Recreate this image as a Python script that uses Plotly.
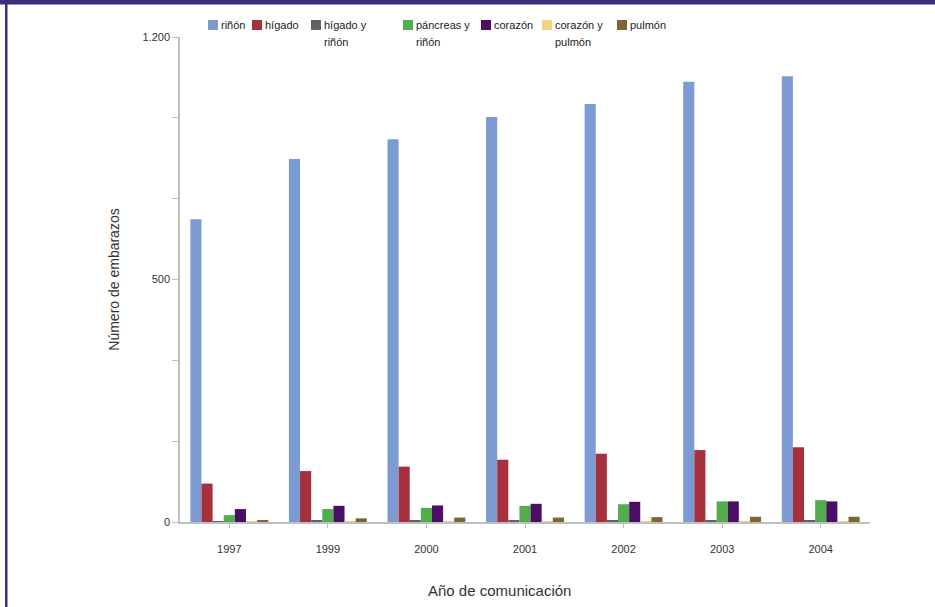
import plotly.graph_objects as go

years = ["1997", "1999", "2000", "2001", "2002", "2003", "2004"]

series_names = ["riñón", "hígado", "hígado y riñón", "páncreas y riñón",
                "corazón", "corazón y pulmón", "pulmón"]
legend_line1 = ["riñón", "hígado", "hígado y", "páncreas y", "corazón", "corazón y", "pulmón"]
legend_line2 = ["", "", "riñón", "riñón", "", "pulmón", ""]
rinon = [749, 898, 947, 1002, 1034, 1089, 1103]
higado = [95, 126, 137, 154, 169, 178, 185]
higado_rinon = [1, 3, 3, 3, 3, 3, 3]
pancreas_rinon = [17, 32, 35, 40, 44, 51, 54]
corazon = [32, 40, 41, 45, 50, 51, 51]
corazon_pulmon = [1, 2, 2, 2, 2, 2, 2]
pulmon = [5, 9, 11, 11, 12, 13, 13]
series_values = [rinon, higado, higado_rinon, pancreas_rinon, corazon, corazon_pulmon, pulmon]
colors = ["#7B9BD2", "#A6313D", "#5E6266", "#52AE4C", "#4A0F64", "#F1D47C", "#7E6536"]

y_tickvals = [0, 200, 400, 600, 800, 1000, 1200]
y_ticktext = ["0", "", "", "500", "", "", "1.200"]

# layout (pixels)
W, H = 935, 607
L, T = 180, 37
PR, PB = 870, 522
PW, PH = PR - L, PB - T
legend_swatch_x = [208, 252, 311, 403, 481, 542, 617]


def px_x(x):
    return (x - L) / PW


def px_y(y):
    return 1 + (T - y) / PH


fig = go.Figure()
for name, vals, col in zip(series_names, series_values, colors):
    fig.add_trace(go.Bar(x=years, y=vals, name=name, marker=dict(color=col, line=dict(width=0))))

font = "Liberation Sans, Arial, sans-serif"
annotations = [dict(text="Año de comunicación", xref="paper", yref="paper",
                    x=px_x(499), y=px_y(590), xanchor="center", yanchor="middle",
                    showarrow=False, font=dict(size=15, color="#333333"))]
shapes = [
    dict(type="rect", xref="paper", yref="paper", x0=px_x(0), x1=px_x(W),
         y0=px_y(4.5), y1=px_y(0), fillcolor="#3A2F80", line=dict(width=0), layer="above"),
    dict(type="rect", xref="paper", yref="paper", x0=px_x(5), x1=px_x(7.5),
         y0=px_y(H), y1=px_y(0), fillcolor="#3A2F80", line=dict(width=0), layer="above"),
]
for sx, l1, l2, col in zip(legend_swatch_x, legend_line1, legend_line2, colors):
    shapes.append(dict(type="rect", xref="paper", yref="paper", x0=px_x(sx), x1=px_x(sx + 10),
                       y0=px_y(30), y1=px_y(20), fillcolor=col, line=dict(width=0)))
    annotations.append(dict(text=l1, xref="paper", yref="paper", x=px_x(sx + 11), y=px_y(25),
                            xanchor="left", yanchor="middle", showarrow=False,
                            font=dict(size=11, color="#222222")))
    if l2:
        annotations.append(dict(text=l2, xref="paper", yref="paper", x=px_x(sx + 11), y=px_y(42),
                                xanchor="left", yanchor="middle", showarrow=False,
                                font=dict(size=11, color="#222222")))

fig.update_layout(
    width=W, height=H,
    margin=dict(l=L, r=W - PR, t=T, b=H - PB, pad=0),
    paper_bgcolor="white", plot_bgcolor="white",
    barmode="group", bargap=0.21, bargroupgap=0,
    font=dict(family=font, color="#333333", size=11),
    showlegend=False,
    xaxis=dict(type="category", showline=True, linecolor="#BFBFBF", linewidth=1.5,
               ticks="outside", ticklen=4, tickcolor="#BFBFBF", showgrid=False,
               tickfont=dict(size=11, color="#333333"), ticklabelstandoff=12),
    yaxis=dict(range=[0, 1200], showline=True, linecolor="#BFBFBF", linewidth=1.5,
               ticks="outside", ticklen=6, tickcolor="#BFBFBF", showgrid=False,
               tickvals=y_tickvals, ticktext=y_ticktext, zeroline=False,
               tickfont=dict(size=11, color="#333333"),
               title=dict(text="Número de embarazos", font=dict(size=14, color="#333333"), standoff=20)),
    annotations=annotations,
    shapes=shapes,
)
fig.write_html("out.html", config={"displayModeBar": False},
               post_script="document.body.style.margin='0';")
